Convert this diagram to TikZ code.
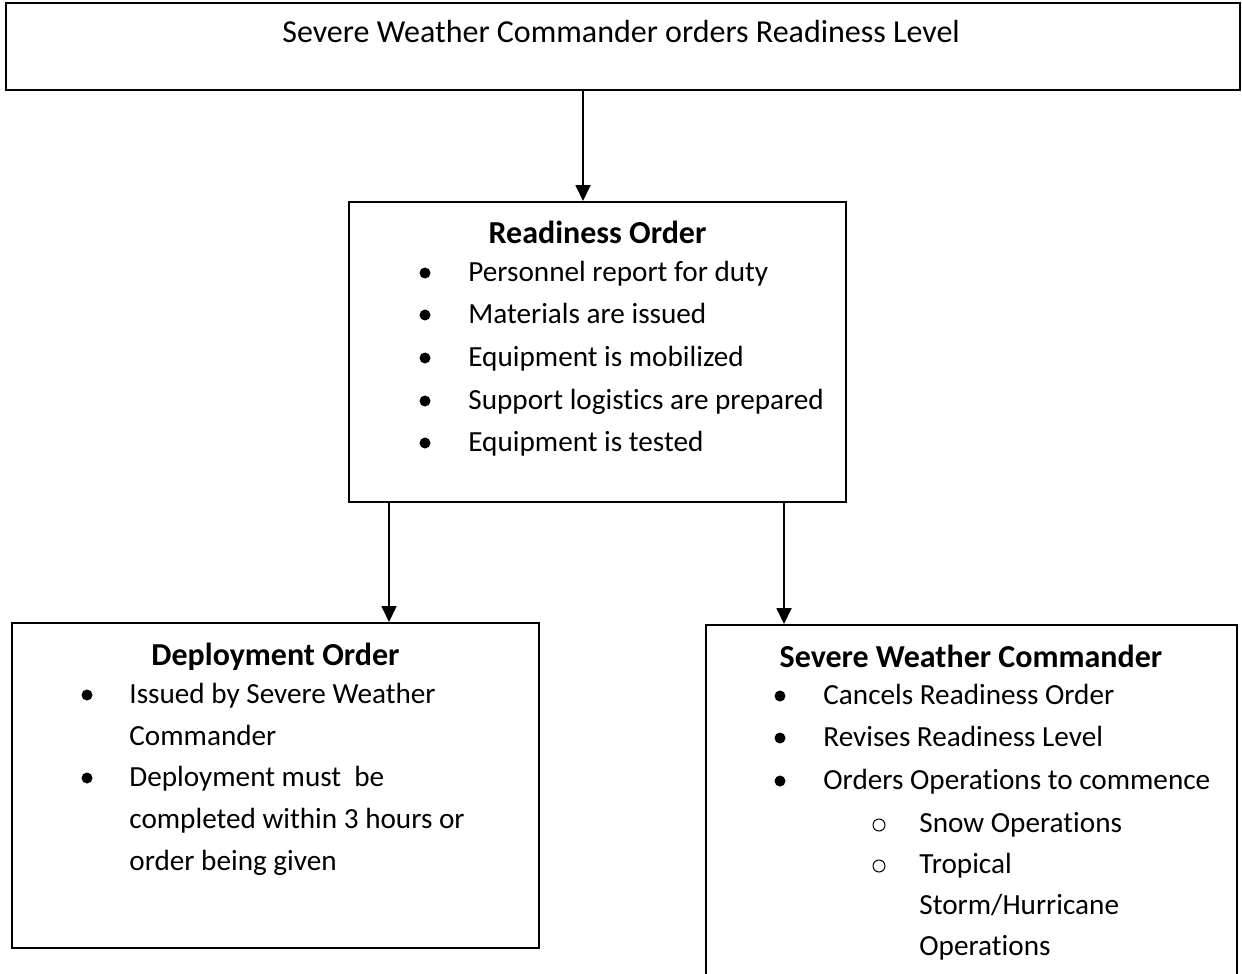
\documentclass[tikz,border=0pt]{standalone}
\usepackage{fontspec}
\setmainfont{Carlito}[Ligatures=NoCommon]
\usetikzlibrary{arrows.meta,positioning,calc}

\begin{document}
\begin{tikzpicture}[x=0.5pt,y=-0.5pt,
    box/.style={draw,line width=1pt,inner sep=0pt},
    txt/.style={inner sep=0pt,anchor=base west,font=\fontsize{14.6pt}{21pt}\selectfont},
    ttl/.style={inner sep=0pt,anchor=base,font=\fontsize{16pt}{21pt}\selectfont\bfseries},
    dot/.style={circle,fill,inner sep=0pt,minimum size=5.5pt},
    ring/.style={circle,draw,line width=0.5pt,inner sep=0pt,minimum size=6pt},
    arr/.style={line width=0.9pt,-{Triangle[length=8pt,width=7.5pt]}}]
        \useasboundingbox (0,0) rectangle (1242,974);
        \node[box,minimum width=617pt,minimum height=43.5pt] (top) at (623,46.5) {};
        \node[box,minimum width=248.5pt,minimum height=150pt] (ready) at (597.5,352) {};
        \node[box,minimum width=263.5pt,minimum height=162.5pt] (deploy) at (275.5,785.5) {};
        \node[box,minimum width=265.5pt,minimum height=187.5pt] (cmdr) at (971.5,812.5) {};

        \coordinate (cA) at (583,0);
        \coordinate (cB) at (389,0);
        \coordinate (cC) at (784,0);
        \draw[arr] (top.south -| cA) -- (ready.north -| cA);
        \draw[arr] (ready.south -| cB) -- (deploy.north -| cB);
        \draw[arr] (ready.south -| cC) -- (cmdr.north -| cC);

        \node[ttl,font=\fontsize{16pt}{21pt}\selectfont] (toptxt) at (621,43) {Severe Weather Commander orders Readiness Level};
        \node[ttl] (readyttl) at (597.5,243) {Readiness Order};
        \node[ttl] (deployttl) at (275.5,665) {Deployment Order};
        \node[ttl] (cmdrttl) at (971,667) {Severe Weather Commander};

        \foreach \y/\t [count=\i] in
        {281/Personnel report for duty,
         323/Materials are issued,
         366/Equipment is mobilized,
         409/Support logistics are prepared,
         451/Equipment is tested
        }
        {
            \node[dot] (rdot\i) at (425,\y-8) {};
            \node[txt] (ritem\i) at (468,\y) {\t};
        };

        \foreach \y [count=\i] in {703,786}
            \node[dot] (ddot\i) at (87,\y-8) {};
        \foreach \y/\t [count=\i] in
        {703/Issued by Severe Weather,
         745/Commander,
         786/Deployment must\ \ be,
         828/completed within 3 hours or,
         870/order being given
        }
        {
            \node[txt] (ditem\i) at (129,\y) {\t};
        };

        \foreach \y/\t [count=\i] in
        {704/Cancels Readiness Order,
         746/Revises Readiness Level,
         789/Orders Operations to commence
        }
        {
            \node[dot] (cdot\i) at (780,\y-8) {};
            \node[txt] (citem\i) at (823,\y) {\t};
        };
        \foreach \y [count=\i] in {832,873}
            \node[ring] (cring\i) at (879,\y-7) {};
        \foreach \y/\t [count=\i] in
        {832/Snow Operations,
         873/Tropical,
         914/{Storm/Hurricane},
         955/Operations
        }
        {
            \node[txt] (csub\i) at (919,\y) {\t};
        };
    \end{tikzpicture}
\end{document}
